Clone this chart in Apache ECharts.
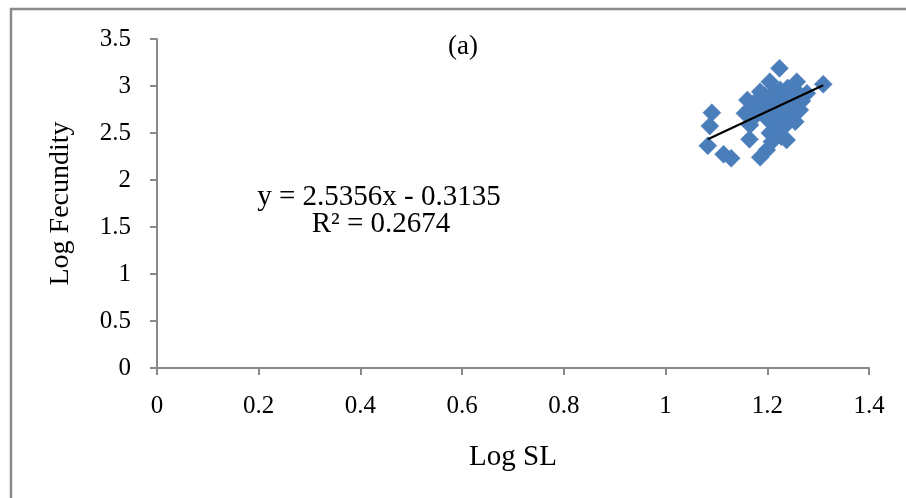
<!DOCTYPE html>
<html>
<head>
<meta charset="utf-8">
<script src="https://cdn.jsdelivr.net/npm/echarts@6/dist/echarts.min.js"></script>
<style>
  html, body { margin: 0; padding: 0; background: #ffffff; }
  #chart { width: 906px; height: 498px; }
</style>
</head>
<body>
<div id="chart"></div>
<script>
// Log standard length vs log fecundity, one point per fish
const logSL = [
  1.083, 1.087, 1.091, 1.114, 1.129, 1.156, 1.161, 1.165, 1.166, 1.173,
  1.186, 1.199, 1.209, 1.222, 1.238, 1.186, 1.205, 1.224, 1.258, 1.278,
  1.264, 1.255, 1.310, 1.195, 1.210, 1.225, 1.240, 1.235, 1.220, 1.245,
  1.250, 1.200, 1.215, 1.230, 1.190, 1.240, 1.260, 1.205, 1.180, 1.250,
  1.228, 1.232, 1.215, 1.235, 1.200, 1.245, 1.225, 1.210, 1.255, 1.230,
  1.195, 1.178, 1.268
];
const logFecundity = [
  2.365, 2.574, 2.716, 2.273, 2.231, 2.709, 2.851, 2.433, 2.585, 2.816,
  2.241, 2.319, 2.408, 2.532, 2.426, 2.940, 3.046, 3.188, 3.046, 2.922,
  2.745, 2.620, 3.018, 2.780, 2.880, 2.960, 2.980, 2.850, 2.720, 2.700,
  2.880, 2.650, 2.600, 2.640, 2.870, 2.780, 2.930, 2.500, 2.700, 2.800,
  2.460, 2.560, 2.930, 2.920, 2.840, 2.860, 2.800, 2.760, 2.740, 2.700,
  2.900, 2.780, 2.840
];

// Linear fit reported for the sample
const slope = 2.5356;
const intercept = -0.3135;
const rSquared = 0.2674;

const xTickLabels = ['0', '0.2', '0.4', '0.6', '0.8', '1', '1.2', '1.4'];
const yTickLabels = ['0', '0.5', '1', '1.5', '2', '2.5', '3', '3.5'];

const points = logSL.map((x, i) => [x, logFecundity[i]]);
const xMin = Math.min(...logSL);
const xMax = Math.max(...logSL);
const fitLine = [
  [xMin, slope * xMin + intercept],
  [xMax, slope * xMax + intercept]
];

const serif = '"Liberation Serif", "Times New Roman", serif';
const axisGray = '#898989';

const chart = echarts.init(document.getElementById('chart'), null, { renderer: 'canvas' });

chart.setOption({
  backgroundColor: '#ffffff',
  animation: false,
  grid: { left: 157, right: 37, top: 39, bottom: 130, containLabel: false },
  xAxis: {
    type: 'value',
    min: 0, max: 1.4, interval: 0.2,
    name: 'Log SL',
    nameLocation: 'middle',
    nameGap: 89,
    nameTextStyle: { fontFamily: serif, fontSize: 29, color: '#000', verticalAlign: 'middle' },
    axisLine: { show: true, lineStyle: { color: axisGray, width: 2 } },
    axisTick: { show: true, length: 7, inside: false, lineStyle: { color: axisGray, width: 2 } },
    axisLabel: {
      fontFamily: serif, fontSize: 25, color: '#000', margin: 38, verticalAlign: 'middle',
      formatter: v => xTickLabels[Math.round(v / 0.2)]
    },
    splitLine: { show: false }
  },
  yAxis: {
    type: 'value',
    min: 0, max: 3.5, interval: 0.5,
    name: 'Log Fecundity',
    nameLocation: 'middle',
    nameGap: 96,
    nameRotate: 90,
    nameTextStyle: { fontFamily: serif, fontSize: 28, color: '#000', verticalAlign: 'middle' },
    axisLine: { show: true, lineStyle: { color: axisGray, width: 2 } },
    axisTick: { show: true, length: 7, inside: false, lineStyle: { color: axisGray, width: 2 } },
    axisLabel: {
      fontFamily: serif, fontSize: 25, color: '#000', margin: 26,
      formatter: v => yTickLabels[Math.round(v / 0.5)]
    },
    splitLine: { show: false }
  },
  series: [
    {
      name: 'Fish',
      type: 'scatter',
      data: points,
      symbol: 'diamond',
      symbolSize: 18,
      itemStyle: { color: '#4A7EBB', borderColor: '#4F81BD', borderWidth: 0.5, opacity: 1 },
      z: 2
    },
    {
      name: 'Linear fit',
      type: 'line',
      data: fitLine,
      showSymbol: false,
      symbol: 'none',
      lineStyle: { color: '#000000', width: 2.2 },
      z: 3
    }
  ],
  graphic: [
    {
      type: 'rect',
      shape: { x: 11, y: 9, width: 1000, height: 600 },
      style: { fill: null, stroke: '#8a8a8a', lineWidth: 2.5 },
      silent: true, z: 100
    },
    {
      type: 'text',
      x: 463, y: 47,
      style: { text: '(a)', font: '27px ' + serif, fill: '#000', textAlign: 'center', textVerticalAlign: 'middle' },
      z: 100
    },
    {
      type: 'text',
      x: 379, y: 197,
      style: {
        text: 'y = ' + slope.toFixed(4) + 'x - ' + Math.abs(intercept).toFixed(4),
        font: '29px ' + serif, fill: '#000', textAlign: 'center', textVerticalAlign: 'middle'
      },
      z: 100
    },
    {
      type: 'text',
      x: 381, y: 224,
      style: {
        text: 'R² = ' + rSquared.toFixed(4),
        font: '29px ' + serif, fill: '#000', textAlign: 'center', textVerticalAlign: 'middle'
      },
      z: 100
    }
  ]
});
</script>
</body>
</html>
